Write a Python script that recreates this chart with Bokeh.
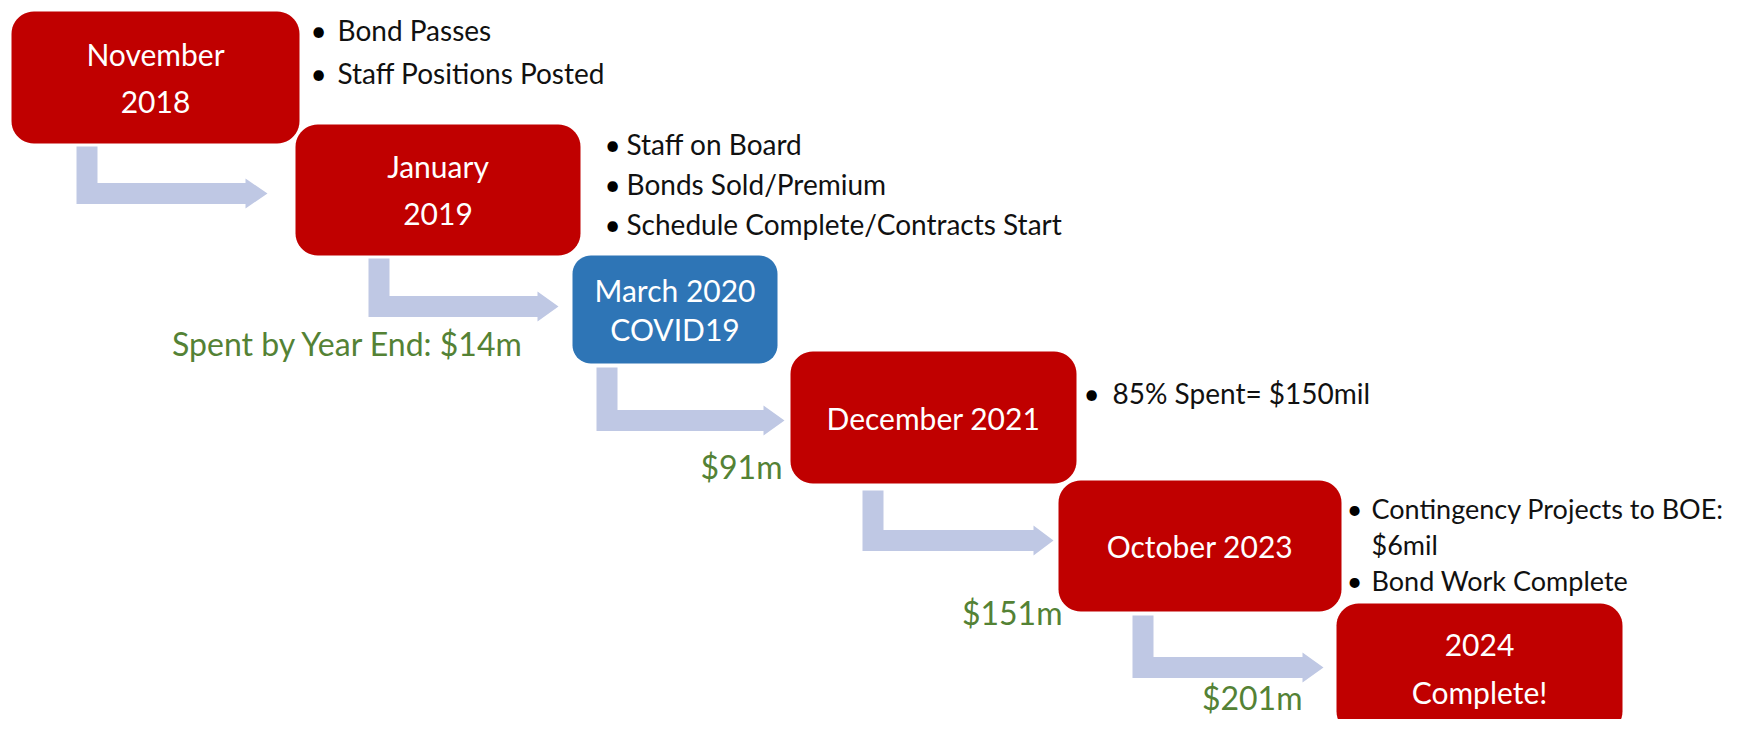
import numpy as np
from bokeh.plotting import figure
from bokeh.models import Range1d
from bokeh.core.properties import value
from bokeh.embed import file_html
from bokeh.resources import INLINE

# ---------------- data (texts) ----------------
milestone_lines = [["November", "2018"], ["January", "2019"], ["March 2020", "COVID19"],
                   ["December 2021"], ["October 2023"], ["2024", "Complete!"]]
milestone_kind = ["red", "red", "blue", "red", "red", "red"]
notes = [
    [["Bond Passes"], ["Staff Positions Posted"]],
    [["Staff on Board"], ["Bonds Sold/Premium"], ["Schedule Complete/Contracts Start"]],
    [],
    [["85% Spent= $150mil"]],
    [["Contingency Projects to BOE:", "$6mil"], ["Bond Work Complete"]],
    [],
]
spent_labels = ["", "Spent by Year End: $14m", "$91m", "$151m", "$201m"]

# ---------------- layout (pixel positions) ----------------
box_x0 = [11, 295, 572, 790, 1058, 1336]
box_x1 = [299, 580, 777, 1076, 1341, 1622]
box_y0 = [11, 124, 255, 351, 480, 603]
box_y1 = [143, 255, 363, 483, 611, 733]
box_line_gap = [48, 48, 39, 0, 0, 47]

note_bx = [318, 612, 0, 1091, 1354, 0]
note_tx = [337, 626, 0, 1112, 1371, 0]
note_y0 = [29, 143, 0, 392, 508, 0]
note_gap = [43, 40, 0, 0, 36, 0]
note_size = ["28px", "28px", "28px", "28px", "27px", "28px"]

arr_vx0 = [76, 368, 596, 862, 1132]
arr_top = [146, 258, 367, 490, 615]
arr_cy = [193, 306, 420, 540, 667]
arr_hx = [245, 537, 763, 1033, 1302]
arr_tx = [267, 558, 784, 1053, 1323]
SHAFT = 21
HEAD = 15

label_rx = [0, 524, 782, 1062, 1302]
label_y = [0, 343, 466, 612, 697]

COLORS = {"red": "#C00000", "blue": "#2E75B6"}
ARROW = "#BFC8E4"
GREEN = "#548235"
FONT = value("Lato")

W, H = 1732, 719
p = figure(width=W, height=H, output_backend="svg", toolbar_location=None,
           x_range=Range1d(0, W), y_range=Range1d(H, 0),
           min_border=0, outline_line_color=None)
p.axis.visible = False
p.grid.visible = False
p.background_fill_color = "white"


def rounded(x0, y0, x1, y1, r):
    xs, ys = [], []
    corners = [(x1 - r, y0 + r, -90, 0), (x1 - r, y1 - r, 0, 90),
               (x0 + r, y1 - r, 90, 180), (x0 + r, y0 + r, 180, 270)]
    for cx, cy, a0, a1 in corners:
        t = np.radians(np.linspace(a0, a1, 12))
        xs.extend(cx + r * np.cos(t))
        ys.extend(cy + r * np.sin(t))
    return list(xs), list(ys)


# arrows
axs, ays = [], []
for i in range(len(arr_vx0)):
    v0, v1 = arr_vx0[i], arr_vx0[i] + SHAFT
    c = arr_cy[i]
    h0, h1 = c - SHAFT / 2, c + SHAFT / 2
    axs.append([v0, v1, v1, arr_hx[i], arr_hx[i], arr_tx[i], arr_hx[i], arr_hx[i], v0])
    ays.append([arr_top[i], arr_top[i], h0, h0, c - HEAD, c, c + HEAD, h1, h1])
p.patches(axs, ays, fill_color=ARROW, line_color=None)

# boxes
bxs, bys, bcol = [], [], []
for i in range(len(milestone_lines)):
    w = box_x1[i] - box_x0[i]
    h = box_y1[i] - box_y0[i]
    r = 0.17 * min(w, h)
    xs, ys = rounded(box_x0[i], box_y0[i], box_x1[i], box_y1[i], r)
    bxs.append(xs); bys.append(ys); bcol.append(COLORS[milestone_kind[i]])
p.patches(bxs, bys, fill_color=bcol, line_color=None)

# box texts
tx, ty, tt = [], [], []
for i, lines in enumerate(milestone_lines):
    cx = (box_x0[i] + box_x1[i]) / 2
    cy = (box_y0[i] + box_y1[i]) / 2
    n = len(lines)
    for k, s in enumerate(lines):
        tx.append(cx)
        ty.append(cy + (k - (n - 1) / 2) * box_line_gap[i])
        tt.append(s)
p.text(tx, ty, text=tt, text_color="white", text_font=FONT, text_font_size="30px",
       text_align="center", text_baseline="middle")

# notes
bx, by, bs, nx, ny, nt, ns = [], [], [], [], [], [], []
for i, bullets in enumerate(notes):
    row = 0
    for bl in bullets:
        bx.append(note_bx[i]); by.append(note_y0[i] + row * note_gap[i]); bs.append(note_size[i])
        for s in bl:
            nx.append(note_tx[i]); ny.append(note_y0[i] + row * note_gap[i]); nt.append(s)
            ns.append(note_size[i])
            row += 1
p.text(bx, by, text=["•"] * len(bx), text_color="black", text_font=FONT, text_font_size=bs,
       text_align="center", text_baseline="middle")
p.text(nx, ny, text=nt, text_color="#111111", text_font=FONT, text_font_size=ns,
       text_align="left", text_baseline="middle")

# spent labels
lx, ly, lt = [], [], []
for i, s in enumerate(spent_labels):
    if s:
        lx.append(label_rx[i]); ly.append(label_y[i]); lt.append(s)
p.text(lx, ly, text=lt, text_color=GREEN, text_font=FONT, text_font_size="32px",
       text_align="right", text_baseline="middle")

open("out.html", "w").write(file_html(p, INLINE))
